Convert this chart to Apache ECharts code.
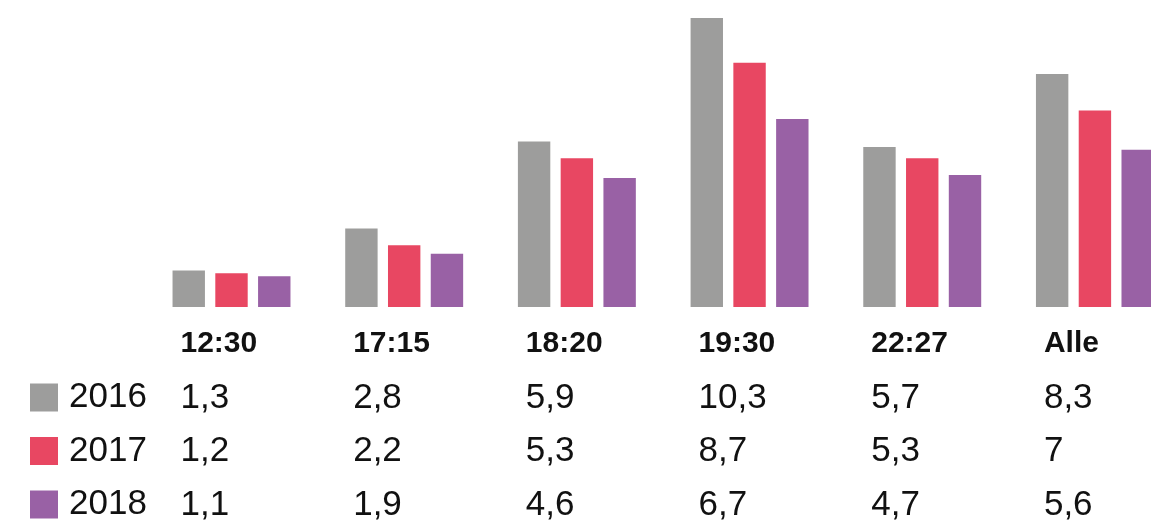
<!DOCTYPE html>
<html>
<head>
<meta charset="utf-8">
<script src="https://cdn.jsdelivr.net/npm/echarts@6/dist/echarts.min.js"></script>
<style>
html,body{margin:0;padding:0;background:#fff;}
#c{width:1151px;height:520px;}
</style>
</head>
<body>
<div id="c"></div>
<script>
const categories = ['12:30', '17:15', '18:20', '19:30', '22:27', 'Alle'];
const years = ['2016', '2017', '2018'];
const v2016 = [1.3, 2.8, 5.9, 10.3, 5.7, 8.3];
const v2017 = [1.2, 2.2, 5.3, 8.7, 5.3, 7];
const v2018 = [1.1, 1.9, 4.6, 6.7, 4.7, 5.6];
const colors = ['#9d9d9c', '#e84762', '#9961a5'];

const seriesValues = [v2016, v2017, v2018];
const fmt = v => String(v).replace('.', ',');
const FONT = '"Liberation Sans", Arial, sans-serif';

const chart = echarts.init(document.getElementById('c'), null, {renderer: 'canvas'});

const tableAxes = [];
tableAxes.push({
  type: 'category', gridIndex: 1, data: categories, position: 'bottom',
  axisLine: {show: false}, axisTick: {show: false}, splitLine: {show: false},
  axisLabel: {
    interval: 0, align: 'left', verticalAlign: 'middle', margin: 36,
    fontFamily: FONT, fontWeight: 'bold', fontSize: 30, color: '#111'
  }
});
const margins = [90, 143.5, 197.5];
seriesValues.forEach((vals, i) => {
  tableAxes.push({
    type: 'category', gridIndex: 1, data: categories, position: 'bottom',
    axisLine: {show: false}, axisTick: {show: false}, splitLine: {show: false},
    axisLabel: {
      interval: 0, align: 'left', verticalAlign: 'middle', margin: margins[i],
      fontFamily: FONT, fontSize: 35, color: '#111',
      formatter: (val, idx) => fmt(vals[idx])
    }
  });
});

const legendTops = [380, 433.5, 487];
const legends = years.map((y, i) => ({
  data: [y], orient: 'vertical', left: 30, top: legendTops[i], padding: 0,
  icon: 'rect', itemWidth: 28, itemHeight: 28,
  textStyle: {fontFamily: FONT, fontSize: 35, color: '#111', lineHeight: 28, padding: [3, 0, 0, 6]},
  selectedMode: false
}));

chart.setOption({
  animation: false,
  backgroundColor: '#fff',
  color: colors,
  legend: legends,
  grid: [
    {left: 145.16, top: 0, width: 1036.1, height: 307, containLabel: false, outerBoundsMode: 'none'},
    {left: 94.16, top: 307, width: 1036.1, height: 1, containLabel: false, outerBoundsMode: 'none'}
  ],
  xAxis: [
    {type: 'category', gridIndex: 0, data: categories,
     axisLine: {show: false}, axisTick: {show: false}, axisLabel: {show: false}, splitLine: {show: false}}
  ].concat(tableAxes),
  yAxis: [
    {type: 'value', gridIndex: 0, min: 0, max: 10.94, show: false},
    {type: 'value', gridIndex: 1, min: 0, max: 1, show: false}
  ],
  series: seriesValues.map((vals, i) => ({
    name: years[i], type: 'bar', xAxisIndex: 0, yAxisIndex: 0,
    data: vals, barWidth: 32.4, barGap: '32%',
    itemStyle: {color: colors[i]},
    silent: true
  }))
});
</script>
</body>
</html>
